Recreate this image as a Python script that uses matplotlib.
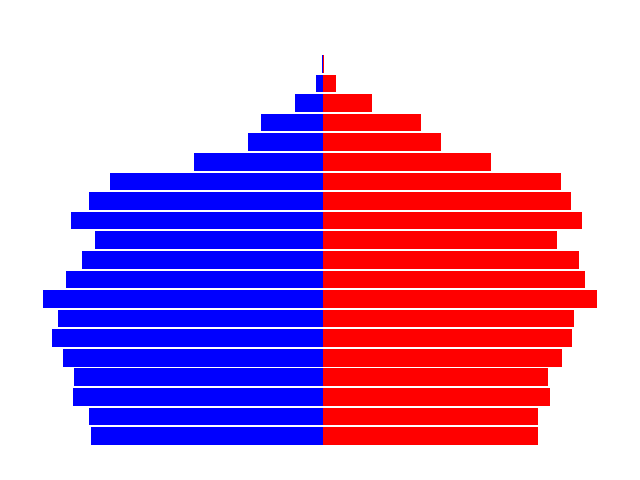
import matplotlib
matplotlib.use("Agg")
import matplotlib.pyplot as plt

# age groups, youngest at the bottom
ages = ["0-4", "5-9", "10-14", "15-19", "20-24", "25-29", "30-34", "35-39",
        "40-44", "45-49", "50-54", "55-59", "60-64", "65-69", "70-74",
        "75-79", "80-84", "85-89", "90-94", "95+"]
male = [232, 234, 250, 249, 260, 271, 265, 280, 257, 241,
        228, 252, 234, 213, 129, 75, 62, 28, 7, 1]
female = [215, 215, 227, 225, 239, 249, 251, 274, 262, 256,
          234, 259, 248, 238, 168, 118, 98, 49, 13, 0.7]

fig, ax = plt.subplots(figsize=(6.4, 4.8), dpi=100)
y = range(len(ages))
ax.barh(y, [-m for m in male], height=0.9, color="blue")
ax.barh(y, female, height=0.9, color="red")
ax.axis("off")

plt.subplots_adjust(left=0.024, right=0.976, bottom=0.0325, top=0.926)
plt.savefig("out.png")
